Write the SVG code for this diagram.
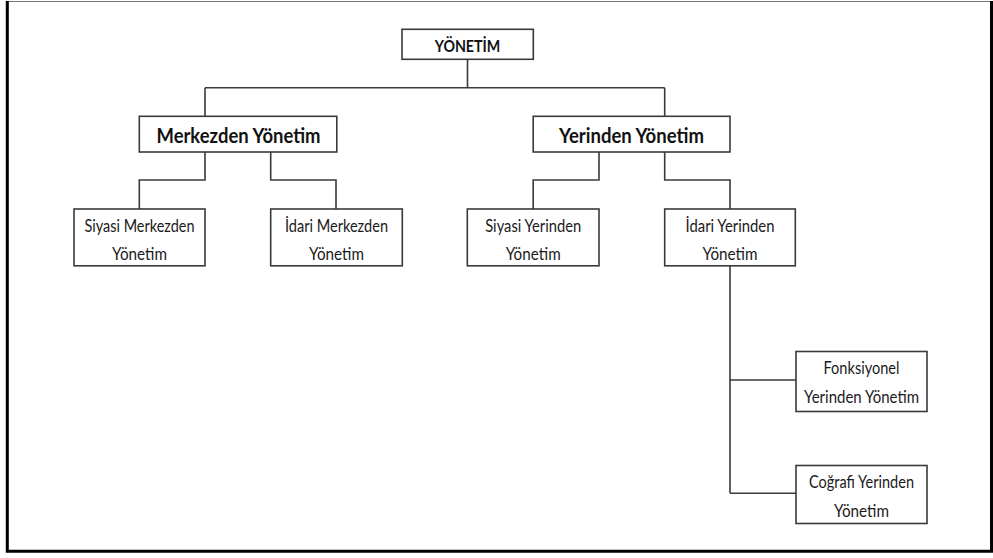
<svg xmlns="http://www.w3.org/2000/svg" width="993" height="558" viewBox="0 0 993 558">
<style>
.box{fill:#fff;stroke:#3a3a3a;stroke-width:1.6}
.con{fill:none;stroke:#3a3a3a;stroke-width:1.6}
.t{font-family:Lato,"Liberation Sans",sans-serif;font-size:17.5px;fill:#1a1a1a;text-anchor:middle}
.b{font-family:Lato,"Liberation Sans",sans-serif;font-weight:bold;fill:#111;text-anchor:middle}
</style>
<rect x="0" y="0" width="993" height="558" fill="#fff"/>
<g id="frame">
<path d="M7 1.5H991.5" fill="none" stroke="#777" stroke-width="1"/>
<path d="M7.3 1V551.3H991.5V1" fill="none" stroke="#000" stroke-width="3"/>
</g>
<g id="connectors">
<path class="con" d="M467.5 59V87.7M205 87.7H664.7M205 87.7V116M664.7 87.7V116"/>
<path class="con" d="M205 152V180H139.3V209M270.7 152V180H336V209"/>
<path class="con" d="M599 152V180H533.2V209M664.7 152V180H730V209"/>
<path class="con" d="M730 266V493.3M730 380H796M730 493.3H796"/>
</g>
<g id="n-yonetim">
<rect class="box" x="402" y="29.3" width="131.3" height="30"/>
<text class="b" x="467.5" y="52" font-size="17.5" textLength="65.5" lengthAdjust="spacingAndGlyphs">YÖNETİM</text>
</g>
<g id="n-merkezden">
<rect class="box" x="139.3" y="116.3" width="197.5" height="35.7"/>
<text class="b" x="238.5" y="143.3" font-size="21" textLength="164" lengthAdjust="spacingAndGlyphs">Merkezden Yönetim</text>
</g>
<g id="n-yerinden">
<rect class="box" x="533.2" y="116.3" width="196.8" height="35.7"/>
<text class="b" x="631.5" y="143.3" font-size="21" textLength="145" lengthAdjust="spacingAndGlyphs">Yerinden Yönetim</text>
</g>
<g id="n-siyasi-merkezden">
<rect class="box" x="74" y="209" width="131" height="56.8"/>
<text class="t" x="139.5" y="231.5" textLength="110" lengthAdjust="spacingAndGlyphs">Siyasi Merkezden</text>
<text class="t" x="139.5" y="260" textLength="55" lengthAdjust="spacingAndGlyphs">Yönetim</text>
</g>
<g id="n-idari-merkezden">
<rect class="box" x="270.7" y="209" width="131.6" height="56.8"/>
<text class="t" x="336.5" y="231.5" textLength="103" lengthAdjust="spacingAndGlyphs">İdari Merkezden</text>
<text class="t" x="336.5" y="260" textLength="55" lengthAdjust="spacingAndGlyphs">Yönetim</text>
</g>
<g id="n-siyasi-yerinden">
<rect class="box" x="467.3" y="209" width="131.7" height="56.8"/>
<text class="t" x="533.2" y="231.5" textLength="96" lengthAdjust="spacingAndGlyphs">Siyasi Yerinden</text>
<text class="t" x="533.2" y="260" textLength="55" lengthAdjust="spacingAndGlyphs">Yönetim</text>
</g>
<g id="n-idari-yerinden">
<rect class="box" x="664.7" y="209" width="130.6" height="56.8"/>
<text class="t" x="730" y="231.5" textLength="89" lengthAdjust="spacingAndGlyphs">İdari Yerinden</text>
<text class="t" x="730" y="260" textLength="55" lengthAdjust="spacingAndGlyphs">Yönetim</text>
</g>
<g id="n-fonksiyonel">
<rect class="box" x="796" y="351.5" width="131" height="60"/>
<text class="t" x="861.5" y="374" textLength="76" lengthAdjust="spacingAndGlyphs">Fonksiyonel</text>
<text class="t" x="861.5" y="403" textLength="115" lengthAdjust="spacingAndGlyphs">Yerinden Yönetim</text>
</g>
<g id="n-cografi">
<rect class="box" x="796" y="465.5" width="131" height="58"/>
<text class="t" x="861.5" y="487.5" textLength="105" lengthAdjust="spacingAndGlyphs">Coğrafi Yerinden</text>
<text class="t" x="861.5" y="516.5" textLength="55" lengthAdjust="spacingAndGlyphs">Yönetim</text>
</g>
</svg>
